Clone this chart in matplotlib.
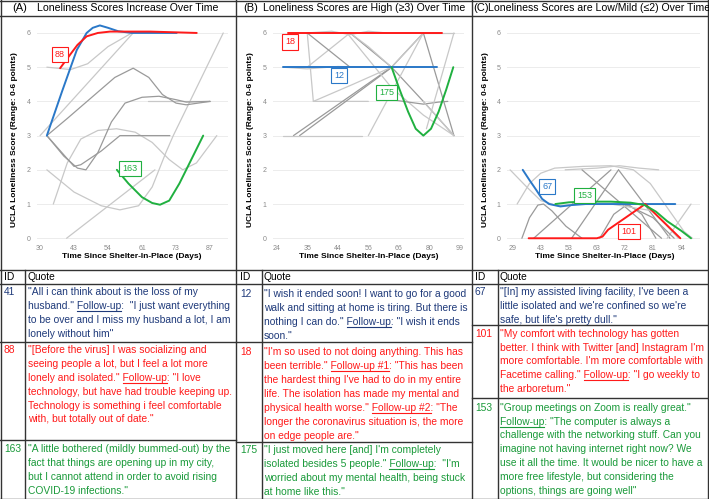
import matplotlib.pyplot as plt
from matplotlib.lines import Line2D

W, H = 709, 499
plt.rcParams['font.family'] = ['Liberation Sans', 'DejaVu Sans']

NAVY = '#1f3a7a'
RED = '#ff1a1a'
GREEN = '#1a9a3a'
LBLUE = '#2a78c8'
LGREEN = '#20b040'
LGREY = '#c8c8c8'
DGREY = '#9a9a9a'

# ---- panel texts
titles = ["Loneliness Scores Increase Over Time",
          "Loneliness Scores are High (\u22653) Over Time",
          "Loneliness Scores are Low/Mild (\u22642) Over Time"]
letters = ["(A)", "(B)", "(C)"]
a_days = ["30", "43", "54", "61", "73", "87"]
b_days = ["24", "35", "44", "56", "66", "80", "99"]
c_days = ["29", "43", "53", "63", "72", "81", "94"]

# ---- panel A trajectories (x = tick index, y = score)
a41_x = [0.2, 0.65, 1.08, 1.37, 1.55, 1.76, 2.0, 2.3, 2.7, 4.02]
a41_y = [3.0, 4.3, 5.5, 6.0, 6.15, 6.22, 6.15, 6.05, 6.0, 6.0]
a88_x = [0.59, 0.88, 1.1, 1.37, 1.7, 2.06, 3.24, 4.61]
a88_y = [4.97, 5.36, 5.65, 5.9, 6.0, 6.04, 6.04, 6.0]
a163_x = [2.26, 2.6, 3.0, 3.3, 3.53, 3.8, 4.1, 4.4, 4.8]
a163_y = [2.0, 1.6, 1.2, 1.03, 0.98, 1.1, 1.6, 2.2, 3.0]
a_grey_x = [[0.2, 0.9, 1.4, 2.0, 2.7],
            [0.78, 3.38],
            [0.2, 1.0, 1.8, 2.35, 2.9, 3.3, 3.7, 3.92, 5.39],
            [0.39, 0.8, 1.2, 1.7, 2.25, 2.8, 3.3, 3.8, 4.2, 4.6, 5.2],
            [0.0, 2.74],
            [3.19, 5.0],
            [0.2, 0.8, 1.5, 2.2, 2.74, 3.2, 3.6, 4.0, 4.3, 5.0],
            [0.2, 0.7, 1.1, 1.35, 1.7, 2.1, 2.5, 3.0, 3.5, 4.0, 4.3, 5.0],
            [0.2, 0.6, 1.0, 1.2, 1.8, 2.35, 3.82]]
a_grey_y = [[5.0, 4.93, 5.1, 5.6, 6.0],
            [0.0, 2.0],
            [2.0, 1.35, 0.95, 0.83, 0.95, 1.5, 2.5, 3.0, 6.0],
            [1.0, 2.2, 2.9, 3.15, 3.2, 3.1, 2.8, 2.3, 2.0, 2.2, 3.0],
            [3.0, 6.0],
            [4.0, 4.0],
            [3.0, 3.5, 4.1, 4.7, 4.97, 4.7, 4.2, 3.95, 3.9, 4.0],
            [3.0, 2.4, 2.05, 2.0, 2.5, 3.4, 3.95, 4.12, 4.15, 4.05, 3.98, 4.0],
            [3.0, 2.55, 2.1, 2.15, 2.55, 3.0, 3.0]]
a_grey_c = [LGREY, LGREY, LGREY, LGREY, LGREY, LGREY, DGREY, DGREY, DGREY]

# ---- panel B trajectories
b12_x = [0.22, 5.24]
b12_y = [5.0, 5.0]
b18_x = [0.38, 5.4]
b18_y = [6.0, 6.0]
b175_x = [3.76, 4.0, 4.3, 4.55, 4.8, 5.05, 5.3, 5.55, 5.78]
b175_y = [5.0, 4.4, 3.7, 3.2, 3.0, 3.2, 3.7, 4.35, 5.0]
b_grey_x = [[0.2, 1.0, 2.0, 3.0, 3.76], [1.0, 1.8, 2.4, 3.0, 3.6],
            [1.0, 1.2, 2.0, 3.0], [2.4, 3.76, 4.8, 5.8], [0.55, 3.76, 4.8],
            [0.75, 3.7], [0.2, 2.8], [1.2, 2.5, 3.76, 4.8],
            [2.3, 3.76, 4.8, 5.8], [3.0, 4.8], [4.8, 5.8],
            [3.76, 4.3, 4.8, 5.3, 5.6], [4.9, 5.8], [1.0, 2.4, 3.0, 3.76],
            [1.0, 2.4], [4.8, 5.8], [4.8, 5.8]]
b_grey_y = [[5.0, 4.95, 5.02, 5.0, 5.0], [6.0, 6.05, 5.95, 6.05, 6.0],
            [6.0, 4.0, 4.0, 4.0], [6.0, 5.0, 4.0, 3.0], [3.0, 5.0, 6.0],
            [3.0, 4.95], [3.0, 3.0], [4.0, 4.5, 5.0, 6.0],
            [6.0, 4.4, 3.6, 3.0], [3.0, 6.0], [6.0, 3.0],
            [4.05, 3.98, 3.92, 3.98, 4.0], [3.2, 6.0], [5.0, 6.0, 5.6, 5.0],
            [6.0, 5.0], [6.0, 6.0], [4.0, 3.0]]
b_grey_c = [LGREY, LGREY, LGREY, DGREY, DGREY, DGREY, LGREY, LGREY,
            LGREY, LGREY, DGREY, DGREY, LGREY, LGREY, DGREY, LGREY, LGREY]

# ---- panel C trajectories
c67_x = [0.36, 0.6, 0.85, 1.05, 1.3, 1.7, 2.1, 2.6, 5.79]
c67_y = [2.0, 1.7, 1.4, 1.15, 1.0, 0.93, 0.97, 1.0, 1.0]
c101_x = [0.57, 3.0, 3.2, 3.4, 4.72, 5.97]
c101_y = [0.0, 0.0, 0.05, 0.25, 1.0, 0.0]
c153_x = [1.52, 2.0, 2.5, 3.5, 4.2, 4.7, 5.1, 5.5, 6.0, 6.35]
c153_y = [1.0, 1.05, 1.07, 1.07, 1.04, 0.97, 0.78, 0.5, 0.22, 0.0]
c_grey_x = [[-0.09, 0.5, 1.0, 1.6, 2.4],
            [0.16, 0.6, 1.0, 1.5, 2.5, 3.5, 4.3, 4.9, 5.5, 6.1, 6.4],
            [1.87, 3.0, 3.8, 4.5, 5.2],
            [0.33, 0.6, 0.9, 1.1, 1.4, 1.9, 2.47],
            [0.75, 3.5], [2.47, 5.3], [2.1, 3.77], [3.77, 5.6],
            [3.1, 3.6, 4.1, 4.6, 5.1], [5.5, 6.35],
            [4.0, 5.0, 5.75], [3.5, 5.0, 5.9]]
c_grey_y = [[2.0, 1.5, 1.1, 0.95, 1.0],
            [1.0, 1.6, 1.9, 2.05, 2.1, 2.12, 2.0, 1.6, 0.9, 0.2, 0.0],
            [2.0, 2.05, 2.12, 2.05, 2.0],
            [0.0, 0.6, 0.97, 1.0, 0.8, 0.35, 0.0],
            [0.0, 2.0], [2.0, 0.0], [0.0, 2.0], [2.0, 0.0],
            [0.0, 0.7, 1.0, 0.7, 0.0], [0.0, 1.0],
            [1.0, 0.6, 0.0], [1.0, 0.8, 0.0]]
c_grey_c = [LGREY, LGREY, LGREY, DGREY, DGREY, DGREY, DGREY, DGREY,
            DGREY, LGREY, DGREY, LGREY]

# ---- quotes (one entry per printed line, underlined word after '|')
a_rows = [
    ("41", NAVY, ['"All i can think about is the loss of my',
                  'husband." Follow-up:  "I just want everything|Follow-up',
                  'to be over and I miss my husband a lot, I am',
                  'lonely without him"']),
    ("88", RED, ['"[Before the virus] I was socializing and',
                 'seeing people a lot, but I feel a lot more',
                 'lonely and isolated." Follow-up: "I love|Follow-up',
                 'technology, but have had trouble keeping up.',
                 'Technology is something i feel comfortable',
                 'with, but totally out of date."']),
    ("163", GREEN, ['"A little bothered (mildly bummed-out) by the',
                    'fact that things are opening up in my city,',
                    'but I cannot attend in order to avoid rising',
                    'COVID-19 infections."']),
]
b_rows = [
    ("12", NAVY, ['"I wish it ended soon! I want to go for a good',
                  'walk and sitting at home is tiring. But there is',
                  'nothing I can do." Follow-up: "I wish it ends|Follow-up',
                  'soon."']),
    ("18", RED, ['"I\'m so used to not doing anything. This has',
                 'been terrible." Follow-up #1: "This has been|Follow-up #1',
                 'the hardest thing I\'ve had to do in my entire',
                 'life. The isolation has made my mental and',
                 'physical health worse." Follow-up #2: "The|Follow-up #2',
                 'longer the coronavirus situation is, the more',
                 'on edge people are."']),
    ("175", GREEN, ['"I just moved here [and] I\'m completely',
                    'isolated besides 5 people." Follow-up:  "I\'m|Follow-up',
                    'worried about my mental health, being stuck',
                    'at home like this."']),
]
c_rows = [
    ("67", NAVY, ['"[In] my assisted living facility, I\'ve been a',
                  'little isolated and we\'re confined so we\'re',
                  'safe, but life\'s pretty dull."']),
    ("101", RED, ['"My comfort with technology has gotten',
                  'better. I think with Twitter [and] Instagram I\'m',
                  'more comfortable. I\'m more comfortable with',
                  'Facetime calling." Follow-up: "I go weekly to|Follow-up',
                  'the arboretum."']),
    ("153", GREEN, ['"Group meetings on Zoom is really great."',
                    'Follow-up: "The computer is always a|Follow-up',
                    'challenge with the networking stuff. Can you',
                    'imagine not having internet right now? We',
                    'use it all the time. It would be nicer to have a',
                    'more free lifestyle, but considering the',
                    'options, things are going well"']),
]

fig = plt.figure(figsize=(W / 100, H / 100), dpi=100)
renderer = fig.canvas.get_renderer()


def fx(x):
    return x / W


def fy(y):
    return 1 - y / H


def hline(y, x0, x1):
    fig.add_artist(Line2D([fx(x0), fx(x1)], [fy(y), fy(y)], color='#333333', lw=1.0))


def vline(x, y0, y1):
    fig.add_artist(Line2D([fx(x), fx(x)], [fy(y0), fy(y1)], color='#333333', lw=1.0))


def text_width(s, size):
    t = fig.text(0, 0, s, fontsize=size)
    w = t.get_window_extent(renderer=renderer).width
    t.remove()
    return w


def make_panel(left, right, xlim, days, greys_x, greys_y, greys_c, hl, labels, mid):
    ax = fig.add_axes([fx(left), fy(241), (right - left) / W, (241 - 22) / H])
    ax.set_xlim(*xlim)
    ax.set_ylim(-0.08, 6.32)
    for xs, ys, c in zip(greys_x, greys_y, greys_c):
        ax.plot(xs, ys, color=c, lw=0.9, solid_capstyle='round')
    for xs, ys, c in hl:
        ax.plot(xs, ys, color=c, lw=1.4, solid_capstyle='round')
    for (lx, ly, s, c) in labels:
        ax.text(lx, ly, s, color=c, fontsize=6.5, ha='center', va='center',
                bbox=dict(boxstyle='square,pad=0.35', fc='white', ec=c, lw=0.8))
    ax.set_xticks(range(len(days)))
    ax.set_xticklabels(days)
    ax.set_yticks(range(7))
    ax.tick_params(length=0, labelsize=5, labelcolor='#8a8a8a')
    ax.tick_params(axis='x', pad=3)
    ax.tick_params(axis='y', pad=4.5)
    for sp in ax.spines.values():
        sp.set_visible(False)
    ax.yaxis.grid(True, color='#ececec', lw=0.7)
    ax.set_axisbelow(True)
    fig.text(fx(left - 22), fy(140), "UCLA Loneliness Score (Range: 0-6 points)",
             rotation=90, fontsize=6, fontweight='bold', ha='center', va='center')
    fig.text(fx(mid), fy(257), "Time Since Shelter-In-Place (Days)",
             fontsize=6, fontweight='bold', ha='center', va='center')
    return ax


make_panel(37, 228, (-0.09, 5.53), a_days, a_grey_x, a_grey_y, a_grey_c,
           [(a41_x, a41_y, LBLUE), (a88_x, a88_y, RED), (a163_x, a163_y, LGREEN)],
           [(0.59, 5.37, "88", RED), (2.65, 2.03, "163", LGREEN)], 132)
make_panel(273, 464, (-0.12, 6.13), b_days, b_grey_x, b_grey_y, b_grey_c,
           [(b12_x, b12_y, LBLUE), (b18_x, b18_y, RED), (b175_x, b175_y, LGREEN)],
           [(0.44, 5.74, "18", RED), (2.04, 4.75, "12", LBLUE), (3.6, 4.25, "175", LGREEN)], 369)
make_panel(507, 700, (-0.2, 6.67), c_days, c_grey_x, c_grey_y, c_grey_c,
           [(c67_x, c67_y, LBLUE), (c101_x, c101_y, RED), (c153_x, c153_y, LGREEN)],
           [(1.23, 1.51, "67", LBLUE), (2.56, 1.25, "153", LGREEN), (4.14, 0.2, "101", RED)], 605)

# titles
for lx, tx, letter, title in [(12, 37, letters[0], titles[0]),
                              (243, 263, letters[1], titles[1]),
                              (473, 488, letters[2], titles[2])]:
    fig.text(fx(lx), fy(8), letter, fontsize=8, ha='left', va='center')
    fig.text(fx(tx), fy(8), title, fontsize=7.6, ha='left', va='center')

# table text
QS = 7.4


def draw_rows(rows, id_x, q_x, starts, step=13.9):
    for (rid, color, lines), y0 in zip(rows, starts):
        fig.text(fx(id_x), fy(y0), rid, color=color, fontsize=QS, ha='left', va='center')
        for k, line in enumerate(lines):
            y = y0 + k * step
            ul = None
            if '|' in line:
                line, ul = line.split('|')
            fig.text(fx(q_x), fy(y), line, color=color, fontsize=QS, ha='left', va='center')
            if ul:
                i = line.index(ul)
                x1 = q_x + text_width(line[:i + len(ul)], QS)
                x0 = x1 - text_width(ul, QS)
                fig.add_artist(Line2D([fx(x0), fx(x1)], [fy(y + 5), fy(y + 5)], color=color, lw=0.8))


for x_id, x_q in [(4, 28), (240, 264), (475, 500)]:
    fig.text(fx(x_id), fy(277.5), "ID", fontsize=QS, ha='left', va='center')
    fig.text(fx(x_q), fy(277.5), "Quote", fontsize=QS, ha='left', va='center')

draw_rows(a_rows, 4, 28, [292.3, 350, 449.3])
draw_rows(b_rows, 240, 264, [294.3, 352.3, 450])
draw_rows(c_rows, 475, 500, [292.3, 333.7, 407.7])

# grid of the figure
hline(0.5, 0, W)
hline(498.5, 0, W)
vline(0.8, 0, H)
vline(708.2, 0, H)
hline(15.5, 0, W)
hline(270, 0, W)
hline(284, 0, W)
vline(236, 0, H)
vline(472, 0, H)
vline(25, 270, H)
vline(262, 270, H)
vline(498, 270, H)
hline(342, 0, 236)
hline(440, 0, 236)
hline(342, 236, 472)
hline(442, 236, 472)
hline(325, 472, W)
hline(398, 472, W)

fig.savefig("out.png", dpi=100)
